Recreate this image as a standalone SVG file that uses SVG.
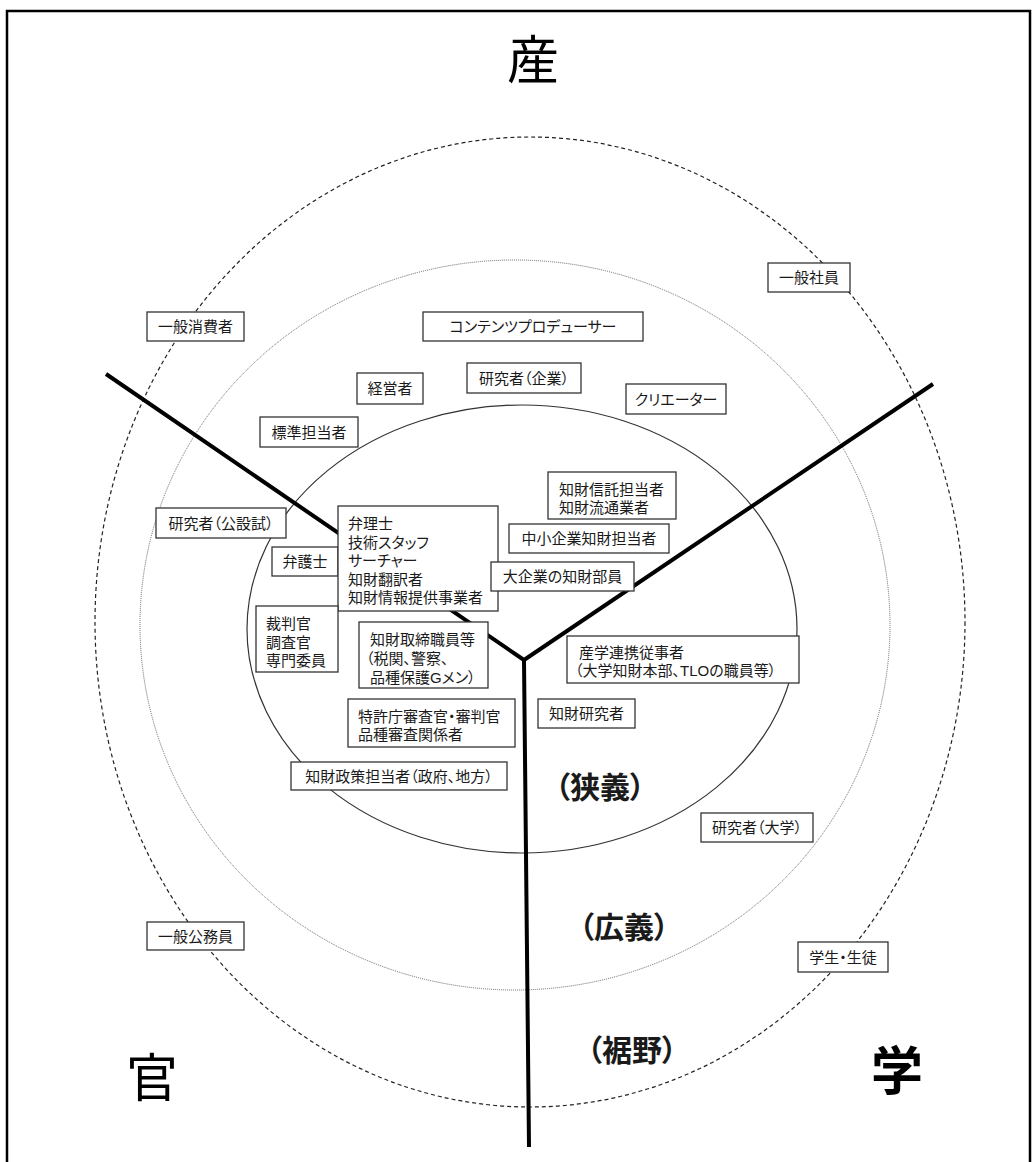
<svg xmlns="http://www.w3.org/2000/svg" width="1035" height="1162" viewBox="0 0 1035 1162">
<style>
text{font-family:"Liberation Sans","Noto Sans CJK JP",sans-serif;fill:#1a1a1a;font-feature-settings:"palt";dominant-baseline:central}
.lb{font-size:15px}
.c{text-anchor:middle}
.box{fill:#fff;stroke:#333;stroke-width:1.3}
.big{font-size:30px;font-weight:700;text-anchor:middle}
.corner{font-size:52px;text-anchor:middle;fill:#000}
</style>
<rect width="1035" height="1162" fill="#fff"/>
<path d="M7,1162 V11 H1030 V1162" fill="none" stroke="#000" stroke-width="2.5"/>
<g id="rings" fill="none">
<ellipse cx="530" cy="622" rx="435" ry="485" stroke="#222" stroke-width="1.2" stroke-dasharray="4 3"/>
<ellipse cx="515" cy="625" rx="375" ry="365" stroke="#666" stroke-width="1" stroke-dasharray="1 1"/>
<ellipse cx="522" cy="629" rx="275" ry="224" stroke="#333" stroke-width="1.2"/>
</g>
<g id="connectors">
<path d="M106,374 L524,660 L933,384 M524,660 L529,1147" fill="none" stroke="#000" stroke-width="4" stroke-linejoin="miter"/>
</g>
<text id="sector-industry" class="corner" x="533" y="61">産</text>
<text id="sector-government" class="corner" x="152" y="1079">官</text>
<text id="sector-academia" class="corner" x="897" y="1072" font-weight="700">学</text>
<text class="big" x="600" y="787">（狭義）</text>
<text class="big" x="624" y="927">（広義）</text>
<text class="big" x="632" y="1050">（裾野）</text>
<g id="n1"><rect class="box" x="768" y="263" width="82" height="29"/><text class="lb c" x="809" y="277.5">一般社員</text></g>
<g id="n2"><rect class="box" x="147" y="312" width="97" height="29"/><text class="lb c" x="195.5" y="326.5">一般消費者</text></g>
<g id="n3"><rect class="box" x="423" y="312" width="220" height="29"/><text class="lb c" x="533" y="326.5">コンテンツプロデューサー</text></g>
<g id="n4"><rect class="box" x="357" y="373" width="66" height="31"/><text class="lb c" x="390" y="388.5">経営者</text></g>
<g id="n5"><rect class="box" x="467" y="363" width="114" height="30"/><text class="lb c" x="524" y="378">研究者（企業）</text></g>
<g id="n6"><rect class="box" x="626" y="384" width="100" height="30"/><text class="lb c" x="676" y="399">クリエーター</text></g>
<g id="n7"><rect class="box" x="260" y="417" width="98" height="30"/><text class="lb c" x="309" y="432">標準担当者</text></g>
<g id="n8"><rect class="box" x="156" y="508" width="130" height="30"/><text class="lb c" x="221" y="523">研究者（公設試）</text></g>
<g id="n9"><rect class="box" x="272" y="547" width="66" height="29"/><text class="lb c" x="305" y="561.5">弁護士</text></g>
<g id="n10"><rect class="box" x="338" y="506" width="160" height="105"/>
<text class="lb" y="523"><tspan x="348">弁理士</tspan><tspan x="348" dy="18.5">技術スタッフ</tspan><tspan x="348" dy="18.5">サーチャー</tspan><tspan x="348" dy="18.5">知財翻訳者</tspan><tspan x="348" dy="18.5">知財情報提供事業者</tspan></text></g>
<g id="n11"><rect class="box" x="256" y="606" width="82" height="66"/>
<text class="lb" y="623"><tspan x="266">裁判官</tspan><tspan x="266" dy="18.5">調査官</tspan><tspan x="266" dy="18.5">専門委員</tspan></text></g>
<g id="n12"><rect class="box" x="359" y="622" width="129" height="66"/>
<text class="lb" y="639"><tspan x="370">知財取締職員等</tspan><tspan x="366" dy="19">（税関、警察、</tspan><tspan x="370" dy="19">品種保護Gメン）</tspan></text></g>
<g id="n13"><rect class="box" x="548" y="472" width="128" height="47"/>
<text class="lb" y="489"><tspan x="559">知財信託担当者</tspan><tspan x="559" dy="18">知財流通業者</tspan></text></g>
<g id="n14"><rect class="box" x="509" y="524" width="160" height="29"/><text class="lb c" x="589" y="538.5">中小企業知財担当者</text></g>
<g id="n15"><rect class="box" x="491" y="562" width="143" height="29"/><text class="lb c" x="562.5" y="576.5">大企業の知財部員</text></g>
<g id="n16"><rect class="box" x="567" y="636" width="232" height="47"/>
<text class="lb" y="652"><tspan x="579">産学連携従事者</tspan><tspan x="575" dy="18">（大学知財本部、TLOの職員等）</tspan></text></g>
<g id="n17"><rect class="box" x="538" y="699" width="97" height="29"/><text class="lb c" x="586.5" y="713.5">知財研究者</text></g>
<g id="n18"><rect class="box" x="348" y="699" width="167" height="48"/>
<text class="lb" y="716"><tspan x="358">特許庁審査官・審判官</tspan><tspan x="358" dy="18">品種審査関係者</tspan></text></g>
<g id="n19"><rect class="box" x="291" y="762" width="216" height="28"/><text class="lb c" x="399" y="776">知財政策担当者（政府、地方）</text></g>
<g id="n20"><rect class="box" x="701" y="813" width="112" height="29"/><text class="lb c" x="757" y="827.5">研究者（大学）</text></g>
<g id="n21"><rect class="box" x="798" y="942" width="90" height="30"/><text class="lb c" x="843" y="957">学生・生徒</text></g>
<g id="n22"><rect class="box" x="147" y="922" width="97" height="28"/><text class="lb c" x="195.5" y="936">一般公務員</text></g>
</svg>
